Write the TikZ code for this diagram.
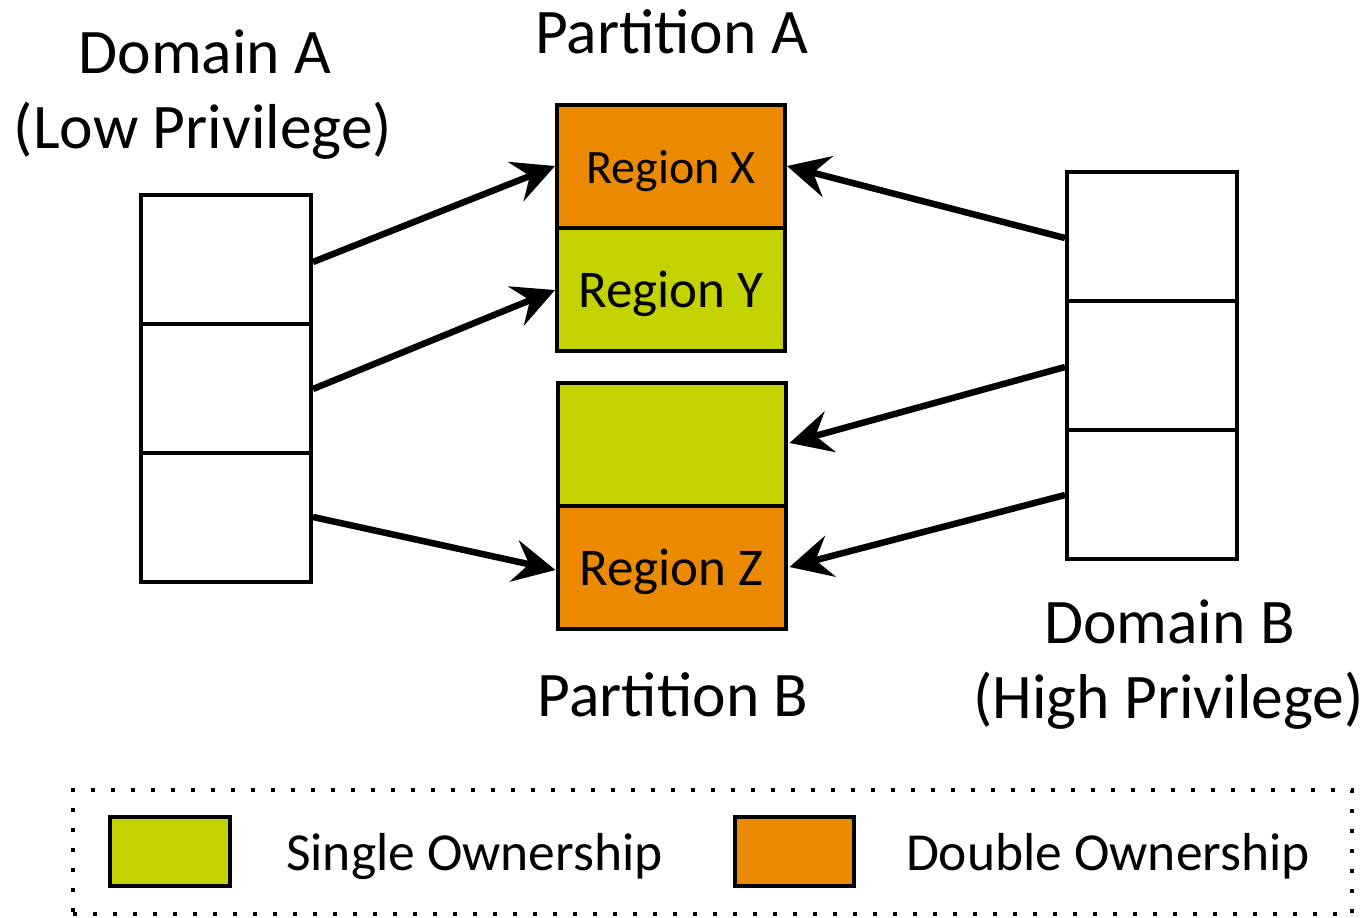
\documentclass[tikz,border=0pt]{standalone}
\usepackage{fontspec}
\setmainfont{Carlito}
\usetikzlibrary{arrows.meta,calc}
\definecolor{ownorange}{RGB}{235,138,0}
\definecolor{owngreen}{RGB}{196,210,0}
\begin{document}
\begin{tikzpicture}[x=1pt,y=-1pt,
  cell/.style={draw=black,line width=4pt,inner sep=0pt,minimum width=170pt,minimum height=129pt,fill=white},
  region/.style={draw=black,line width=4pt,inner sep=0pt,minimum width=228pt,minimum height=123pt,text depth=0pt},
  lbl/.style={font=\fontsize{63.5}{70}\selectfont,inner sep=0pt,anchor=base},
  legtext/.style={font=\fontsize{53.5}{60}\selectfont,inner sep=0pt,anchor=base},
  conn/.style={line width=6.5pt,-{Stealth[length=42pt,width=42pt,inset=15pt]}}]
\useasboundingbox (0,0) rectangle (1368,918);
% Domain A
\node[cell] (a1) at (226,259.5) {};
\node[cell] (a2) at (226,388.5) {};
\node[cell] (a3) at (226,517.5) {};
% Domain B
\node[cell] (b1) at (1152,236) {};
\node[cell] (b2) at (1152,365) {};
\node[cell] (b3) at (1152,494.5) {};
% Partition A
\node[region,fill=ownorange,font=\fontsize{48}{54}\selectfont,text height=34pt] (rx) at (671,166) {Region X};
\node[region,fill=owngreen,font=\fontsize{53}{60}\selectfont,text height=35pt] (ry) at (671,289.5) {Region Y};
% Partition B
\node[region,fill=owngreen] (pb) at (671.5,444) {};
\node[region,fill=ownorange,font=\fontsize{53}{60}\selectfont,text height=36pt] (rz) at (671.5,567) {Region Z};
% labels
\node[lbl] (la) at (205,73) {Domain A};
\node[lbl] (la2) at (203,148) {(Low Privilege)};
\node[lbl] (pa) at (671.5,53) {Partition A};
\node[lbl] (pbl) at (673,716) {Partition B};
\node[lbl] (lb) at (1169.5,643) {Domain B};
\node[lbl] (lb2) at (1168.5,718) {(High Privilege)};
% connectors
\draw[conn] ($(a1.east)+(0,2.5)$) -- (rx.west);
\draw[conn] ($(a2.east)+(0,0.5)$) -- ($(ry.west)+(0,0.5)$);
\draw[conn] ($(a3.east)+(0,-0.5)$) -- ($(rz.west)+(0,3)$);
\draw[conn] ($(b1.west)+(0,2)$) -- (rx.east);
\draw[conn] ($(b2.west)+(0,2)$) -- ($(pb.east)+(2,-1)$);
\draw[conn] ($(b3.west)+(0,0.5)$) -- ($(rz.east)+(2,0)$);
% legend
\node[draw=black,line width=4pt,dash pattern=on 4pt off 16pt,minimum width=1279pt,minimum height=124pt,inner sep=0pt] (leg) at (712.5,852) {};
\node[draw=black,line width=4pt,fill=owngreen,minimum width=120pt,minimum height=69pt,inner sep=0pt] (ls) at (170,851.5) {};
\node[draw=black,line width=4pt,fill=ownorange,minimum width=119pt,minimum height=69pt,inner sep=0pt] (ld) at (794.5,851.5) {};
\node[legtext] (lst) at (474.5,870) {Single Ownership};
\node[legtext] (ldt) at (1108,870) {Double Ownership};
\end{tikzpicture}
\end{document}
